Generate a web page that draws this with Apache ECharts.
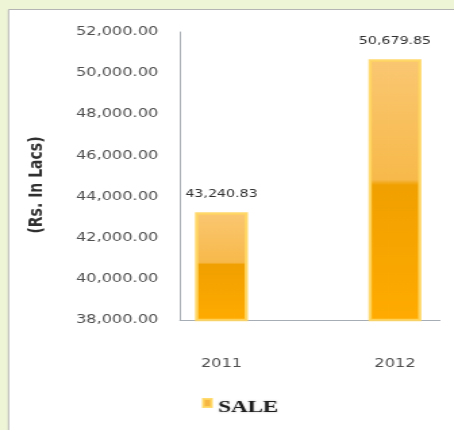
<!DOCTYPE html>
<html>
<head>
<meta charset="utf-8">
<script src="https://cdn.jsdelivr.net/npm/echarts@6/dist/echarts.min.js"></script>
<style>
  html, body { margin: 0; padding: 0; overflow: hidden; background: #eef5d6; }
  /* the chart is laid out narrow and widened horizontally; the extra right margin is cut off */
  #chart { width: 360px; height: 430px; transform: scaleX(1.35119); transform-origin: 0 0; }
</style>
</head>
<body>
<div id="chart"></div>
<script>
// Sales figures (Rs. in Lacs)
const years = ['2011', '2012'];
const sales = [43240.83, 50679.85];
const seriesName = 'SALE';
const axisTitle = '(Rs. In Lacs)';
const yMin = 38000, yMax = 52000, yStep = 2000;

const fmt = v => v.toLocaleString('en-US', { minimumFractionDigits: 2, maximumFractionDigits: 2 });

const chart = echarts.init(document.getElementById('chart'), null, { renderer: 'canvas' });

chart.setOption({
  animation: false,
  backgroundColor: '#eef5d6',
  graphic: [{
    type: 'rect',
    z: -10,
    silent: true,
    shape: { x: 6.3, y: 9.5, width: 400, height: 500 },
    style: { fill: '#ffffff', stroke: '#b4b4b4', lineWidth: 1 }
  }],
  grid: [
    // frame holding the visible axis lines and value labels
    { left: 133.2, width: 192.4, top: 32, bottom: 110, outerBoundsMode: 'none' },
    // band layout for the two year columns
    { left: 99.7, width: 256.8, top: 32, bottom: 110, outerBoundsMode: 'none' }
  ],
  legend: {
    data: [seriesName],
    left: 144.5,
    top: 393,
    icon: 'rect',
    itemWidth: 6,
    itemHeight: 8,
    itemStyle: { color: '#f6b643' },
    // the swatch sits a little higher than the label text
    formatter: name => '{t|' + name + '}',
    textStyle: {
      rich: {
        t: {
          fontFamily: 'Liberation Serif',
          fontWeight: 'bold',
          fontSize: 17,
          color: '#1c1c1c',
          padding: [10, 0, 0, 0],
          textShadowColor: 'rgba(0,0,0,0.25)',
          textShadowBlur: 2
        }
      }
    }
  },
  xAxis: [
    {
      gridIndex: 0,
      type: 'category',
      data: years,
      axisLine: { lineStyle: { color: '#a7adb4', width: 1 } },
      axisTick: { show: false },
      axisLabel: { show: false },
      splitLine: { show: false }
    },
    {
      gridIndex: 1,
      type: 'category',
      data: years,
      boundaryGap: true,
      axisLine: { show: false },
      axisTick: { show: false },
      axisLabel: {
        margin: 38,
        fontFamily: 'DejaVu Sans',
        fontSize: 12,
        color: '#505050'
      },
      splitLine: { show: false }
    }
  ],
  yAxis: [
    {
      gridIndex: 0,
      type: 'value',
      min: yMin,
      max: yMax,
      interval: yStep,
      name: axisTitle,
      nameLocation: 'middle',
      nameRotate: 90,
      nameGap: 99,
      nameTextStyle: {
        fontFamily: 'DejaVu Sans',
        fontWeight: 'bold',
        fontSize: 14,
        color: '#303030',
        padding: [0, 18, 0, 0]
      },
      axisLine: { show: true, lineStyle: { color: '#a7adb4', width: 1 } },
      axisTick: { show: false },
      splitLine: { show: false },
      axisLabel: {
        margin: 16,
        fontFamily: 'DejaVu Sans',
        fontSize: 12,
        color: '#505050',
        formatter: v => fmt(v)
      }
    },
    {
      gridIndex: 1,
      type: 'value',
      min: yMin,
      max: yMax,
      interval: yStep,
      show: false,
      splitLine: { show: false }
    }
  ],
  series: [{
    name: seriesName,
    type: 'bar',
    xAxisIndex: 1,
    yAxisIndex: 1,
    data: sales,
    barWidth: 39.2,
    itemStyle: {
      color: new echarts.graphic.LinearGradient(0, 0, 0, 1, [
        { offset: 0, color: '#fac772' },
        { offset: 0.46, color: '#f7b94a' },
        { offset: 0.48, color: '#f0a000' },
        { offset: 1, color: '#ffab00' }
      ]),
      borderColor: 'rgba(255, 214, 96, 0.9)',
      borderWidth: 2.5
    },
    label: {
      show: true,
      position: 'top',
      distance: 12,
      fontFamily: 'DejaVu Sans',
      fontSize: 10.5,
      color: '#303030',
      formatter: p => fmt(p.value)
    }
  }]
});
</script>
</body>
</html>
